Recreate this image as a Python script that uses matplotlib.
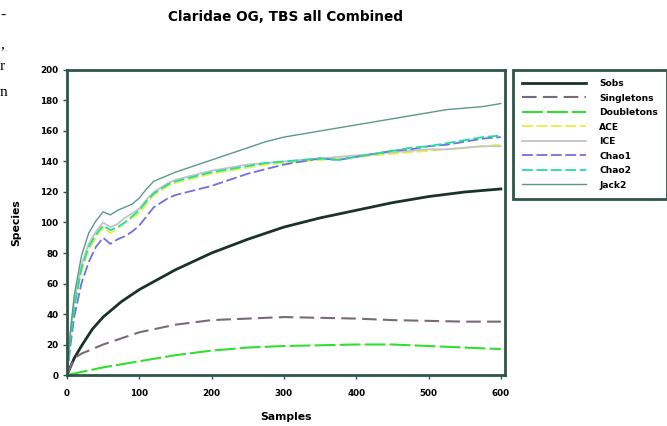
import matplotlib
matplotlib.use("Agg")
import matplotlib.pyplot as plt

# sample counts for the estimator curves
samples = [0, 5, 10, 20, 30, 40, 50, 60, 70, 80, 90, 100, 110, 120, 130, 140, 150,
           175, 200, 225, 250, 275, 300, 325, 350, 375, 400, 425, 450, 475, 500,
           525, 550, 575, 600]

ace = [0, 25, 45, 68, 82, 90, 97, 93, 96, 100, 103, 106, 112, 118, 121, 124, 126,
       129, 132, 134, 136, 138, 139, 140, 141, 142, 143, 144, 145, 146, 147,
       148, 149, 150, 151]
ice = [0, 28, 48, 72, 86, 94, 100, 97, 99, 103, 106, 109, 115, 120, 123, 126, 128,
       131, 134, 136, 138, 139, 140, 141, 142, 143, 144, 145, 146, 147, 148,
       148, 149, 150, 150]
chao1 = [0, 20, 38, 60, 74, 84, 90, 86, 89, 91, 94, 98, 104, 110, 113, 116, 118,
         121, 124, 128, 132, 135, 138, 140, 142, 141, 143, 145, 147, 148, 150,
         151, 153, 155, 156]
chao2 = [0, 24, 44, 70, 84, 92, 98, 95, 97, 100, 104, 108, 114, 119, 122, 125, 127,
         130, 133, 135, 137, 139, 140, 141, 142, 141, 143, 145, 147, 149, 150,
         152, 154, 156, 157]
jack2 = [0, 30, 52, 78, 93, 101, 107, 105, 108, 110, 112, 116, 122, 127, 129, 131, 133,
         137, 141, 145, 149, 153, 156, 158, 160, 162, 164, 166, 168, 170, 172,
         174, 175, 176, 178]

# observed / singleton / doubleton curves
obs_x = [0, 10, 20, 35, 50, 75, 100, 150, 200, 250, 300, 350, 400, 450, 500, 550, 600]
sobs = [0, 11, 19, 30, 38, 48, 56, 69, 80, 89, 97, 103, 108, 113, 117, 120, 122]
singletons = [0, 11, 14, 17, 20, 24, 28, 33, 36, 37, 38, 37.5, 37, 36, 35.5, 35, 35]
doubletons = [0, 1, 2, 3.5, 5, 7, 9, 13, 16, 18, 19, 19.5, 20, 20, 19, 18, 17]

title = "Claridae OG, TBS all Combined"
frame_col = "#2d5548"
bold = dict(family="DejaVu Sans", weight="bold")

fig = plt.figure(figsize=(6.67, 4.26), dpi=100)
ax = fig.add_axes([0.1004, 0.1197, 0.657, 0.716])

l_sobs, = ax.plot(obs_x, sobs, color="#1a3328", lw=2.0, label="Sobs")
l_sing, = ax.plot(obs_x, singletons, color="#7a6a78", lw=1.5, ls=(0, (7, 3)), label="Singletons")
l_doub, = ax.plot(obs_x, doubletons, color="#30e030", lw=1.5, ls=(0, (10, 2)), label="Doubletons")
l_ace, = ax.plot(samples, ace, color="#e4f040", lw=1.3, ls=(0, (6, 2)), label="ACE")
l_ice, = ax.plot(samples, ice, color="#c4c4c4", lw=1.3, label="ICE")
l_c1, = ax.plot(samples, chao1, color="#7070e0", lw=1.3, ls=(0, (6, 2)), label="Chao1")
l_c2, = ax.plot(samples, chao2, color="#20e0a0", lw=1.3, ls=(0, (6, 2)), label="Chao2")
l_j2, = ax.plot(samples, jack2, color="#5a9a8a", lw=1.0, label="Jack2")

ax.set_xlim(0, 606)
ax.set_ylim(0, 200)
ax.set_xticks(range(0, 601, 100))
ax.set_yticks(range(0, 201, 20))
for s in ax.spines.values():
    s.set_color(frame_col)
    s.set_linewidth(2)
ax.tick_params(direction="out", length=3, width=1, color=frame_col)
ax.tick_params(axis="x", pad=7)
ax.tick_params(axis="y", pad=3)
for lab in ax.get_xticklabels() + ax.get_yticklabels():
    lab.set_fontproperties(dict(size=6.3, **bold))

ax.set_xlabel("Samples", fontsize=7.8, labelpad=10, **bold)
ax.set_ylabel("Species", fontsize=7.8, labelpad=14, **bold)
fig.text(286 / 667, 1 - 17 / 426, title, ha="center", va="center", fontsize=9.8, **bold)

leg = fig.legend(handles=[l_sobs, l_sing, l_doub, l_ace, l_ice, l_c1, l_c2, l_j2],
                 loc="upper left", bbox_to_anchor=(513 / 667, 1 - 70 / 426),
                 borderaxespad=0, prop=dict(size=6.6, **bold), handlelength=7.0,
                 handletextpad=1.4, labelspacing=0.6, borderpad=1.0,
                 fancybox=False, framealpha=1)
leg.get_frame().set_edgecolor(frame_col)
leg.get_frame().set_linewidth(2)

# stray page text cut at the left edge
for ch, ypx in [("-", 15), (",", 45), ("r", 67), ("n", 92)]:
    fig.text(0.0, 1 - ypx / 426, ch, ha="left", va="center", fontsize=11,
             family="Liberation Serif")

fig.savefig("out.png", dpi=100)
